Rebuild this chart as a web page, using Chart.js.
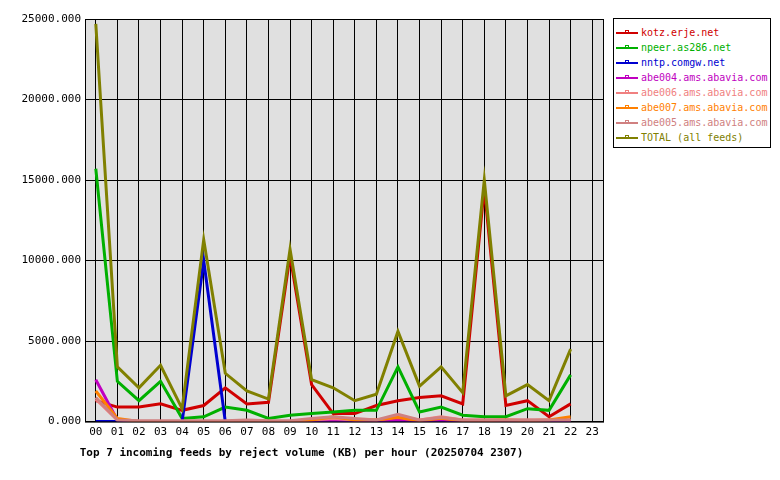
<!DOCTYPE html>
<html><head><meta charset="utf-8">
<script src="https://cdn.jsdelivr.net/npm/chart.js@4/dist/chart.umd.min.js"></script>
<style>
body{margin:0;background:#fff;font-family:"DejaVu Sans Mono",monospace}
#wrap{position:relative;width:780px;height:480px}
#legend{position:absolute;left:613px;top:18px;width:158px;height:130px;box-sizing:border-box;border:1px solid #000;background:#fff;font-size:10px;padding:6px 0 3px 0}
.it{display:flex;align-items:center;height:15px;padding-left:2px}
.sw{width:22px;height:2px;margin-right:3px;position:relative}
.sw:after{content:"";position:absolute;left:9px;top:-2px;width:4px;height:4px;border:1px solid;border-color:inherit;box-sizing:border-box}
</style></head><body>
<div id="wrap"><canvas id="c" width="780" height="480"></canvas><div id="legend"></div></div>
<script>
const hours=["00","01","02","03","04","05","06","07","08","09","10","11","12","13","14","15","16","17","18","19","20","21","22","23"];
const kotz=[1300,900,900,1100,700,1000,2100,1100,1200,10300,2300,500,500,1000,1300,1500,1600,1100,14500,1000,1300,300,1100,null];
const npeer=[15700,2500,1300,2500,200,300,900,700,200,400,500,600,700,700,3400,600,900,400,300,300,800,700,2900,null];
const nntp=[0,0,0,0,0,10000,0,0,0,0,0,50,0,0,50,0,50,0,0,0,0,0,0,null];
const abe004=[2600,100,0,0,0,0,0,0,0,0,0,50,0,0,100,50,100,0,0,0,0,50,50,null];
const abe006=[1400,100,0,0,0,0,0,50,0,0,100,200,100,100,300,100,300,100,100,100,100,100,100,null];
const abe007=[1900,200,0,0,0,0,0,50,0,0,100,300,100,100,250,50,200,50,50,100,50,100,300,null];
const abe005=[1500,100,50,50,50,50,50,100,50,50,200,300,200,100,450,100,250,100,100,100,100,100,100,null];
const total=[24700,3400,2100,3500,800,11300,3000,1900,1400,10700,2600,2100,1300,1700,5600,2200,3400,1800,15000,1600,2300,1300,4500,null];
const names=["kotz.erje.net","npeer.as286.net","nntp.comgw.net","abe004.ams.abavia.com","abe006.ams.abavia.com","abe007.ams.abavia.com","abe005.ams.abavia.com","TOTAL (all feeds)"];
const colors=["#d00000","#00b000","#0000d0","#c000c0","#f08080","#ff8000","#d08080","#808000"];
const series=[kotz,npeer,nntp,abe004,abe006,abe007,abe005,total];
const lg=document.getElementById('legend');
names.forEach((n,i)=>{lg.innerHTML+=`<div class="it" style="color:${colors[i]}"><span class="sw" style="background:${colors[i]};border-color:${colors[i]}"></span>${n}</div>`;});
const bg={id:'bg',beforeDraw(ch){const a=ch.chartArea,c=ch.ctx;c.save();c.fillStyle='#e0e0e0';c.fillRect(a.left,a.top,a.right-a.left,a.bottom-a.top);c.restore();},
afterDraw(ch){const a=ch.chartArea,c=ch.ctx;c.save();c.strokeStyle='#000';c.lineWidth=1;c.strokeRect(a.left+0.5,a.top+0.5,a.right-a.left,a.bottom-a.top);c.restore();}};
const datasets=series.map((d,i)=>({label:names[i],data:d,borderColor:colors[i],backgroundColor:colors[i],borderWidth:3,pointRadius:0,tension:0,spanGaps:false}));
datasets.reverse();
new Chart(document.getElementById('c'),{type:'line',data:{labels:hours,datasets},plugins:[bg],
options:{responsive:false,animation:false,layout:{padding:{right:177,top:19,left:0,bottom:20}},
plugins:{legend:{display:false},tooltip:{enabled:false},
title:{display:true,position:'bottom',text:'Top 7 incoming feeds by reject volume (KB) per hour (20250704 2307)',align:'center',color:'#000',font:{family:'DejaVu Sans Mono',size:11,weight:'bold'},padding:{top:4,bottom:0}}},
scales:{x:{offset:true,grid:{offset:false,color:'#000',drawTicks:false},border:{display:false},ticks:{color:'#000',font:{family:'DejaVu Sans Mono',size:11},maxRotation:0,autoSkip:false,padding:4}},
y:{min:0,max:25000,afterFit(s){s.width=85;},grid:{color:'#000',drawTicks:false},border:{display:false},ticks:{stepSize:5000,color:'#000',font:{family:'DejaVu Sans Mono',size:11},padding:4,callback:v=>v.toFixed(3)}}}}});
</script></body></html>
